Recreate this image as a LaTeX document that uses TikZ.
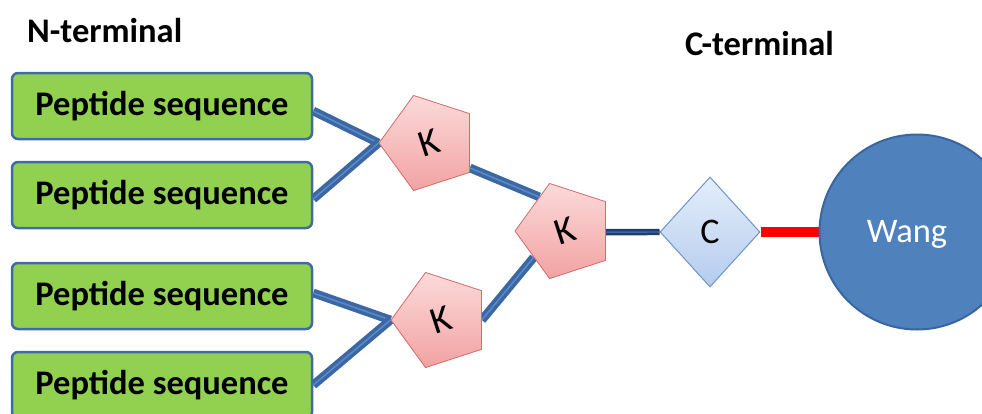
\documentclass[tikz,border=0pt]{standalone}
\usepackage{fontspec}
\setmainfont{Carlito}
\usetikzlibrary{shapes.geometric,calc,backgrounds}

\definecolor{boxgreen}{HTML}{92D050}
\definecolor{boxedge}{HTML}{3F6CA8}
\definecolor{linkblue}{HTML}{3B68A4}
\definecolor{linklight}{HTML}{5E8AC4}
\definecolor{linkdark}{HTML}{1F3E6E}
\definecolor{pinktop}{HTML}{FCDADA}
\definecolor{pinkbot}{HTML}{F2A2A2}
\definecolor{pinkedge}{HTML}{D46A6A}
\definecolor{difftop}{HTML}{E4EEFB}
\definecolor{diffbot}{HTML}{B4CCEE}
\definecolor{diffedge}{HTML}{6F94C8}
\definecolor{resinfill}{HTML}{4F81BD}
\definecolor{resinedge}{HTML}{3A66A0}
\definecolor{linkred}{HTML}{FF0000}

\tikzset{
  bigfont/.style={font=\fontsize{34.5}{40}\selectfont},
  peptide/.style={draw=boxedge, line width=2.5pt, fill=boxgreen,
    rounded corners=6pt, minimum width=300pt, minimum height=66pt,
    inner sep=0pt, font=\fontsize{34.5}{40}\selectfont\bfseries},
  lysine/.style={regular polygon, regular polygon sides=5, rotate=18,
    minimum size=100pt, inner sep=0pt, draw=pinkedge, line width=0.8pt,
    top color=pinktop, bottom color=pinkbot,
    font=\fontsize{38}{42}\selectfont},
  cyst/.style={diamond, minimum width=100pt, minimum height=110pt,
    inner sep=0pt, draw=diffedge, line width=1pt,
    top color=difftop, bottom color=diffbot,
    font=\fontsize{36}{42}\selectfont},
  resin/.style={circle, minimum size=195pt, inner sep=0pt,
    draw=resinedge, line width=2pt, fill=resinfill},
  resintext/.style={text=white, inner sep=0pt, bigfont},
  bond/.style={draw=linkblue, line width=3.6pt, double=linklight,
    double distance=1.5pt},
  bonddark/.style={draw=linkdark, line width=2.5pt, double=linkblue,
    double distance=1.4pt},
  bondred/.style={draw=linkred, line width=10pt},
  heading/.style={anchor=base west, inner sep=0pt,
    font=\fontsize{34.5}{40}\selectfont\bfseries}
}

\begin{document}
\begin{tikzpicture}[x=1pt, y=-1pt]
  \useasboundingbox (0,0) rectangle (982,413);
  \clip (0,0) rectangle (982,413);

  % terminal labels
  \node[heading] (nterm) at (27,42) {N-terminal};
  \node[heading] (cterm) at (685,55) {C-terminal};

  % peptide chains (text set slightly below the box centre)
  \node[peptide] (p1) at (162,106) {\raisebox{-2pt}{Peptide sequence}};
  \node[peptide] (p2) at (162,195) {\raisebox{-2pt}{Peptide sequence}};
  \node[peptide] (p3) at (162,296) {\raisebox{-2pt}{Peptide sequence}};
  \node[peptide] (p4) at (162,385) {\raisebox{-2pt}{Peptide sequence}};

  % lysine branching units
  \node[lysine] (k1) at (429,143) {K};
  \node[lysine] (k3) at (441,320) {K};
  \node[lysine] (k2) at (565,231) {K};

  % cysteine and resin bead
  \node[cyst] (cy) at (710,232) {C};
  \node[resin] (wang) at (917,232) {};
  \node[resintext] (wanglabel) at (907,234) {Wang};

  % connectors behind the shapes
  \begin{pgfonlayer}{background}
    \draw[bond] ($(p1.east)+(0,5)$) -- (k1.corner 2);
    \draw[bond] ($(p2.east)+(0,4)$) -- (k1.corner 2);
    \draw[bond] ($(p3.east)+(0,-3)$) -- (k3.corner 2);
    \draw[bond] (p4.east) -- (k3.corner 2);
    \draw[bond] ($(k1.corner 4)!0.08!(k1.corner 5)$) -- ($(k2.corner 1)!0.29!(k2.corner 2)$);
    \draw[bond] ($(k3.corner 5)!0.5!(k3.corner 4)$) -- ($(k2.corner 2)!0.55!(k2.corner 3)$);
    \draw[bonddark] ($(k2.corner 5)!0.52!(k2.corner 4)$) -- (cy.west);
    \draw[bondred] (cy.east) -- (wang.west);
  \end{pgfonlayer}
\end{tikzpicture}
\end{document}
